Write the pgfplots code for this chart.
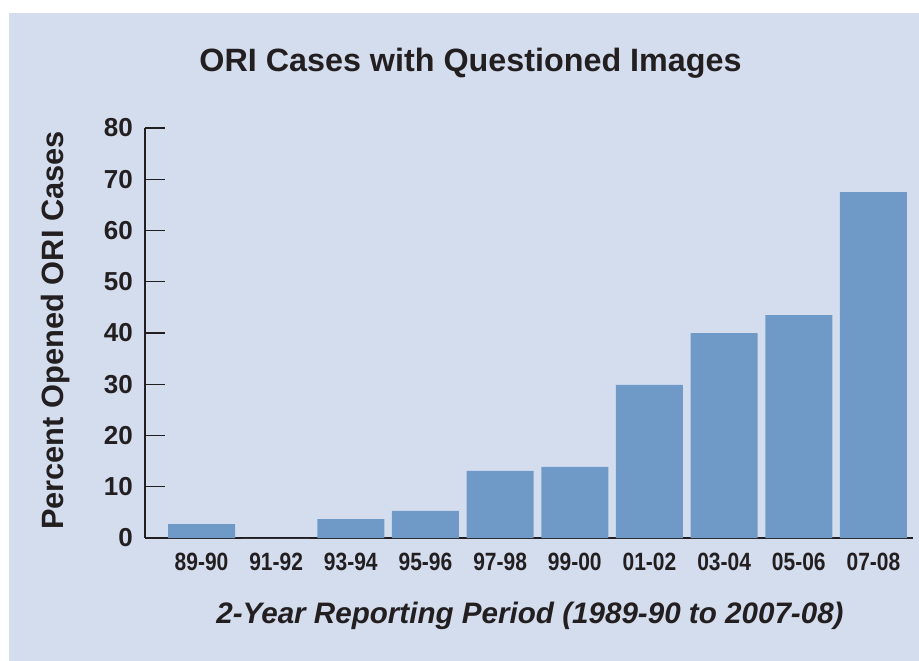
\documentclass[border=0pt]{standalone}
\usepackage{pgfplots}
\pgfplotsset{compat=1.18}
\usepackage{fontspec}
\setmainfont{Liberation Sans}
\newfontfamily\condfont[FakeStretch=0.84]{Liberation Sans}
\definecolor{bgc}{HTML}{D4DDEE}
\definecolor{barc}{HTML}{6F9AC7}
\definecolor{txt}{HTML}{231F20}
\begin{document}
\begin{tikzpicture}[x=1pt,y=1pt]
\useasboundingbox (0,0) rectangle (919,-661);
\fill[white] (0,0) rectangle (919,-661);
\fill[bgc] (9,-13) rectangle (919,-661);
\begin{axis}[
  anchor=south west, at={(145pt,-538pt)},
  width=768pt, height=410pt, scale only axis,
  xmin=-0.757, xmax=9.53, ymin=0, ymax=80,
  axis x line*=bottom, axis y line*=left,
  axis line style={-, line width=1.4pt, color=txt},
  xtick={0,...,9},
  xticklabels={89-90,91-92,93-94,95-96,97-98,99-00,01-02,03-04,05-06,07-08},
  x tick style={draw=none},
  xticklabel style={anchor=base, yshift=-12pt, inner sep=0pt, font=\condfont\bfseries\fontsize{25}{28}\selectfont, text=txt},
  ytick={0,10,...,80},
  y tick style={line width=1.4pt, color=txt},
  major tick length=20pt, tick align=inside,
  yticklabel style={anchor=east, inner sep=0pt, xshift=-12pt, font=\bfseries\fontsize{26}{28}\selectfont, text=txt},
  /pgf/number format/assume math mode=true,
  ybar, bar width=67pt,
]
\addplot[fill=barc, draw=none] coordinates {
(0,2.7) (1,0) (2,3.7) (3,5.3) (4,13.1) (5,13.9) (6,29.9) (7,40) (8,43.5) (9,67.5)};
\end{axis}
\node[anchor=base, text=txt, font=\bfseries\fontsize{32.3}{35}\selectfont] at (470.5,-72) {ORI Cases with Questioned Images};
\node[anchor=base, rotate=90, text=txt, font=\bfseries\fontsize{30.8}{33}\selectfont] at (63,-330.5) {Percent Opened ORI Cases};
\node[anchor=base, text=txt, font=\bfseries\itshape\fontsize{29.6}{32}\selectfont] at (530,-623) {2-Year Reporting Period (1989-90 to 2007-08)};
\end{tikzpicture}
\end{document}
